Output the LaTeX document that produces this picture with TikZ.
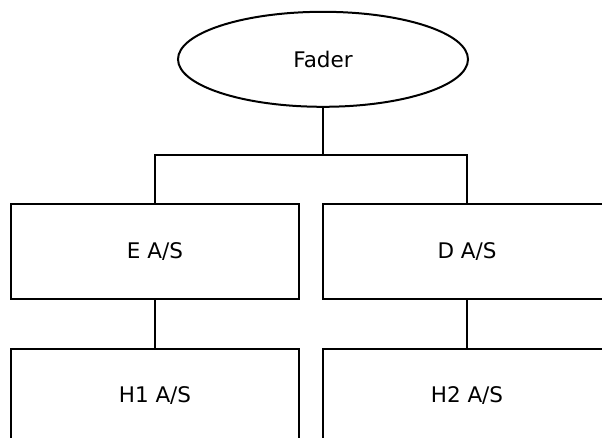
\documentclass[tikz,border=0pt]{standalone}
\usepackage{fontspec}
\setmainfont{DejaVu Sans}
\usetikzlibrary{shapes.geometric}
\begin{document}
\begin{tikzpicture}[x=1pt,y=-1pt,
  line width=2pt,
  label text/.style={font=\fontsize{21.5}{25}\selectfont},
  unit/.style={draw,rectangle,minimum width=288pt,minimum height=94.5pt,inner sep=0pt,label text},
  top/.style={draw,ellipse,minimum width=290pt,minimum height=95pt,inner sep=0pt,label text}]
  \path[use as bounding box,clip] (0,0) rectangle (602,438);
  % root and the four units below it
  \node[top]  (fader) at (323,59.3)  {Fader};
  \node[unit] (e)     at (155,251.5) {E A/S};
  \node[unit] (d)     at (467,251.5) {D A/S};
  \node[unit] (h1)    at (155,395.8) {H1 A/S};
  \node[unit] (h2)    at (467,395.8) {H2 A/S};
  % branching connectors
  \coordinate (bus) at (323,155.5);
  \draw (fader.south) -- (bus);
  \draw (e.north) |- (bus) -| (d.north);
  \draw (e.south) -- (h1.north);
  \draw (d.south) -- (h2.north);
\end{tikzpicture}
\end{document}
